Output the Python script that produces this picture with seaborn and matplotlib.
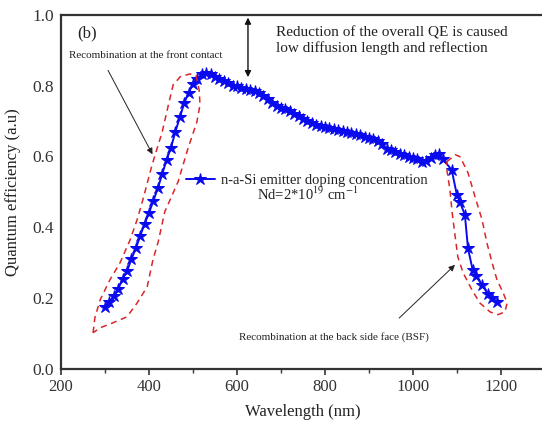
import numpy as np
import pandas as pd
import matplotlib
matplotlib.use('Agg')
import matplotlib.pyplot as plt
import seaborn as sns

# QE curve
wavelength = list(range(300, 1070, 10)) + [1068, 1088, 1100, 1107, 1118, 1125, 1136, 1143, 1157, 1170, 1180, 1190]
qe = [0.175, 0.19, 0.205, 0.225, 0.255, 0.275, 0.31, 0.34, 0.375, 0.41,
      0.44, 0.475, 0.51, 0.55, 0.59, 0.625, 0.67, 0.71, 0.75, 0.78,
      0.805, 0.82, 0.832, 0.835, 0.832, 0.825, 0.818, 0.812, 0.806, 0.800,
      0.798, 0.794, 0.790, 0.788, 0.784, 0.780, 0.772, 0.762, 0.752, 0.742,
      0.738, 0.735, 0.728, 0.720, 0.714, 0.707, 0.700, 0.694, 0.690, 0.686,
      0.682, 0.680, 0.678, 0.676, 0.673, 0.670, 0.667, 0.664, 0.660, 0.655,
      0.652, 0.648, 0.644, 0.634, 0.622, 0.618, 0.612, 0.607, 0.603, 0.599,
      0.596, 0.592, 0.585, 0.587, 0.595, 0.605, 0.606,
      0.592, 0.562, 0.49, 0.47, 0.435, 0.34, 0.278, 0.262, 0.237, 0.212, 0.20, 0.19]

# dashed outlines around the recombination regions (data coords)
front_x = [273, 277, 289, 311, 334, 357, 373, 386, 407, 430, 448, 455, 471, 493, 507, 514,
           516, 509, 489, 466, 436, 421, 409, 396, 373, 350, 318, 289, 273]
front_y = [0.102, 0.144, 0.195, 0.251, 0.299, 0.364, 0.421, 0.477, 0.576, 0.669, 0.766, 0.802,
           0.825, 0.833, 0.828, 0.788, 0.746, 0.698, 0.624, 0.528, 0.444, 0.359, 0.308, 0.232,
           0.186, 0.147, 0.130, 0.116, 0.102]
back_x = [1077, 1096, 1107, 1125, 1141, 1157, 1168, 1180, 1191, 1205, 1214, 1209, 1193, 1175,
          1152, 1134, 1114, 1102, 1096, 1089, 1084, 1077, 1077]
back_y = [0.585, 0.605, 0.599, 0.554, 0.486, 0.421, 0.356, 0.299, 0.251, 0.215, 0.186, 0.161,
          0.153, 0.161, 0.186, 0.223, 0.271, 0.316, 0.373, 0.441, 0.506, 0.562, 0.585]

x_ticks = [200, 400, 600, 800, 1000, 1200]
y_ticks = [0.0, 0.2, 0.4, 0.6, 0.8, 1.0]

df = pd.DataFrame({'Wavelength': wavelength, 'QE': qe})

sns.set_theme(style='ticks')
plt.rcParams['font.family'] = ['Liberation Serif', 'DejaVu Serif']
plt.rcParams['mathtext.fontset'] = 'stix'

fig = plt.figure(figsize=(5.42, 4.23), dpi=100)
ax = fig.add_axes([0.1125, 0.128, 0.893, 0.837])

sns.lineplot(data=df, x='Wavelength', y='QE', ax=ax, color='#0a0aee', linewidth=1.4,
             marker='*', markersize=9, markeredgecolor='#0a0aee',
             label='n-a-Si emitter doping concentration')

ax.plot(front_x, front_y, color='#d9262b', linestyle=(0, (4, 3)), linewidth=1.1)
ax.plot(back_x, back_y, color='#d9262b', linestyle=(0, (4, 3)), linewidth=1.1)

ax.set_xlim(200, 1300)
ax.set_ylim(0.0, 1.0)
ax.set_xticks(x_ticks)
ax.set_yticks(y_ticks)
ax.set_xticks(np.arange(300, 1300, 200), minor=True)
ax.set_xticklabels([str(t) for t in x_ticks])
ax.set_yticklabels([f'{t:.1f}' for t in y_ticks])
ax.tick_params(axis='x', which='major', labelsize=12, direction='out', length=4,
               width=1.2, colors='#333333', labelcolor='#333333')
ax.tick_params(axis='x', which='minor', direction='out', length=3, width=1.0, colors='#333333')
ax.tick_params(axis='y', which='major', labelsize=12.5, length=0, pad=5, labelcolor='#333333')
ax.set_xlabel('Wavelength (nm)', fontsize=12, color='#222222', labelpad=6)
ax.set_ylabel('Quantum efficiency (a.u)', fontsize=12, color='#222222', labelpad=8)

for side in ['left', 'bottom', 'top']:
    ax.spines[side].set_linewidth(1.6)
    ax.spines[side].set_color('#333333')
ax.spines['right'].set_visible(False)

leg = ax.legend(loc='upper left', bbox_to_anchor=(0.258, 0.55), frameon=False, fontsize=10.5,
                handlelength=2.0, handletextpad=0.4, borderpad=0, borderaxespad=0)
for t in leg.get_texts():
    t.set_color('#222222')
ax.text(761, 0.492, 'Nd=2*10$^{19}$ cm$^{-1}$', fontsize=10.5, color='#222222', ha='center', va='center')

ax.text(259, 0.948, '(b)', fontsize=12, color='#222222', ha='center', va='center')
ax.text(218, 0.884, 'Recombination at the front contact', fontsize=8, color='#222222',
        ha='left', va='center')
ax.annotate('', xy=(411, 0.599), xytext=(304, 0.85),
            arrowprops=dict(arrowstyle='-|>', color='#222222', lw=0.7, mutation_scale=9))

ax.annotate('', xy=(625, 1.0), xytext=(625, 0.816),
            arrowprops=dict(arrowstyle='<|-|>', color='#111111', lw=1.0, mutation_scale=9))
ax.text(689, 0.949, 'Reduction of the overall QE is caused', fontsize=11, color='#222222',
        ha='left', va='center')
ax.text(689, 0.907, 'low diffusion length and reflection', fontsize=11, color='#222222',
        ha='left', va='center')

ax.text(820, 0.09, 'Recombination at the back side face (BSF)', fontsize=8, color='#222222',
        ha='center', va='center')
ax.annotate('', xy=(1100, 0.299), xytext=(964, 0.138),
            arrowprops=dict(arrowstyle='-|>', color='#222222', lw=0.7, mutation_scale=9))

fig.savefig('out.png', dpi=100)
